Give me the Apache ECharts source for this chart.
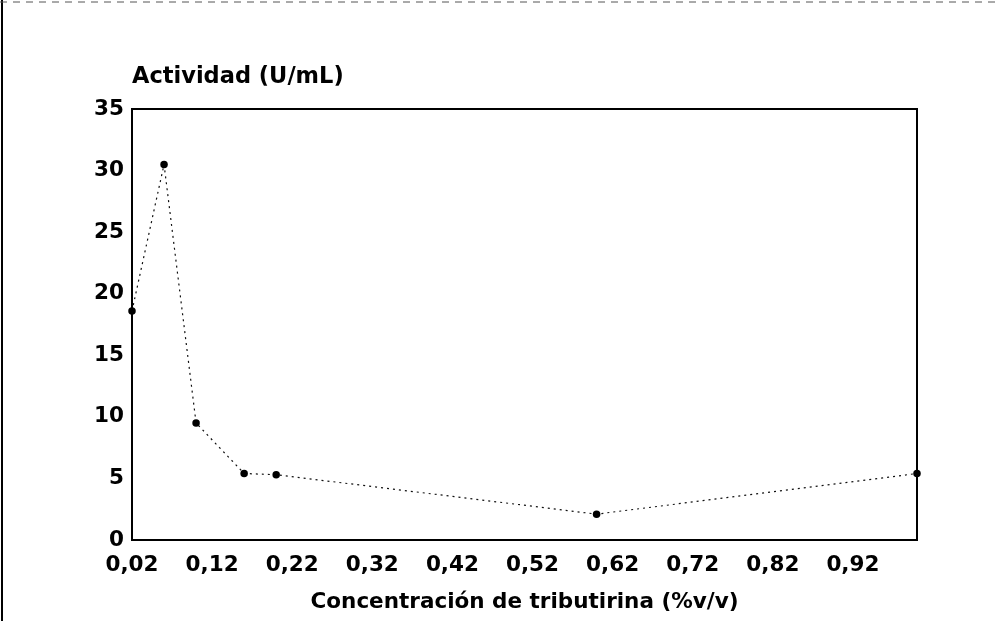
<!DOCTYPE html>
<html>
<head>
<meta charset="utf-8">
<script src="https://cdn.jsdelivr.net/npm/echarts@6/dist/echarts.min.js"></script>
<style>
  html, body { margin: 0; padding: 0; background: #fff; }
  #chart { width: 996px; height: 621px; }
</style>
</head>
<body>
<div id="chart"></div>
<script>
// concentración de tributirina (%v/v)
const concentracion = [0.02, 0.06, 0.10, 0.16, 0.20, 0.60, 1.00]
// actividad (U/mL)
const actividad = [18.6, 30.5, 9.5, 5.4, 5.3, 2.1, 5.4]
// etiquetas del eje x
const xTicks = [0.02, 0.12, 0.22, 0.32, 0.42, 0.52, 0.62, 0.72, 0.82, 0.92]

const font = 'DejaVu Sans'
const chart = echarts.init(document.getElementById('chart'))

chart.setOption({
  animation: false,
  backgroundColor: '#fff',
  grid: {
    left: 132, right: 79, top: 109, bottom: 81,
    show: true, borderColor: '#000', borderWidth: 2,
    outerBoundsMode: 'none'
  },
  xAxis: {
    type: 'value',
    min: 0.02,
    max: 1.0,
    name: 'Concentración de tributirina (%v/v)',
    nameLocation: 'middle',
    nameGap: 51,
    nameTextStyle: { fontFamily: font, fontWeight: 'bold', fontSize: 21.5, color: '#000' },
    axisLine: { show: true, lineStyle: { color: '#000', width: 2 } },
    axisTick: { show: false },
    splitLine: { show: false },
    axisLabel: {
      customValues: xTicks,
      margin: 14,
      fontFamily: font, fontWeight: 'bold', fontSize: 21.5, color: '#000',
      formatter: (v) => v.toFixed(2).replace('.', ',')
    }
  },
  yAxis: {
    type: 'value',
    min: 0,
    max: 35,
    interval: 5,
    name: 'Actividad (U/mL)',
    nameLocation: 'end',
    nameGap: 32,
    nameTextStyle: {
      fontFamily: font, fontWeight: 'bold', fontSize: 22.5, color: '#000',
      align: 'left', verticalAlign: 'middle'
    },
    axisLine: { show: true, lineStyle: { color: '#000', width: 2 } },
    axisTick: { show: false },
    splitLine: { show: false },
    axisLabel: {
      margin: 8, padding: [6, 0, 0, 0],
      fontFamily: font, fontWeight: 'bold', fontSize: 21.5, color: '#000'
    }
  },
  series: [{
    type: 'line',
    data: concentracion.map((x, i) => [x, actividad[i]]),
    symbol: 'circle',
    symbolSize: 7.5,
    itemStyle: { color: '#000' },
    lineStyle: { color: '#111', width: 1.2, type: [2, 4] }
  }],
  graphic: [
    { type: 'line', shape: { x1: 2, y1: 0, x2: 2, y2: 621 }, style: { stroke: '#000', lineWidth: 2 } },
    { type: 'line', shape: { x1: 0, y1: 2, x2: 996, y2: 2 }, style: { stroke: '#555', lineWidth: 1, lineDash: [7, 6] } }
  ]
})
</script>
</body>
</html>
